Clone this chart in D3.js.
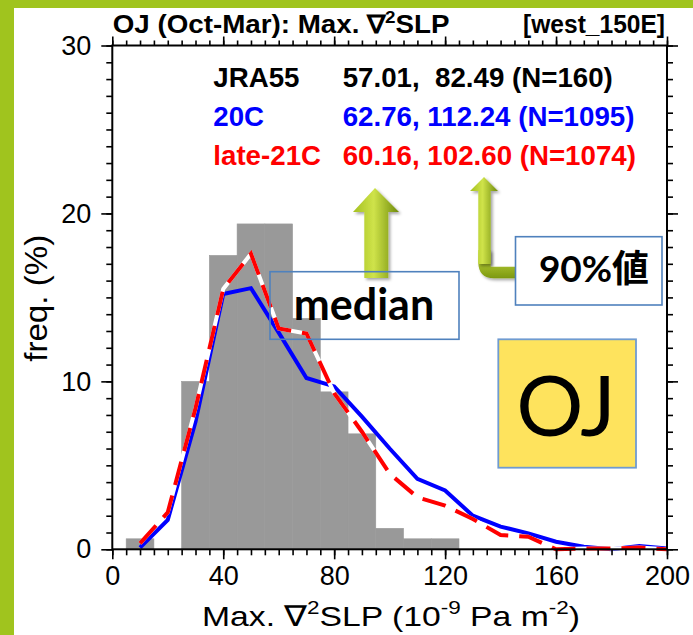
<!DOCTYPE html>
<html>
<head>
<meta charset="utf-8">
<script src="https://cdn.jsdelivr.net/npm/d3@7"></script>
<style>
  html, body { margin: 0; padding: 0; background: #ffffff; }
  svg { display: block; }
  text { white-space: pre; }
</style>
</head>
<body>
<svg id="chart" width="693" height="635"></svg>
<script>
// ---------------- data ----------------
const binCenters = [10, 20, 30, 40, 50, 60, 70, 80, 90, 100, 110, 120];
const jra55Freq  = [0.625, 0, 10.0, 17.5, 19.375, 19.375, 13.75, 9.375, 6.875, 1.25, 0.625, 0.625];
const binWidth = 10;

const lineX     = [10, 20, 30, 40, 50, 60, 70, 80, 90, 100, 110, 120, 130, 140, 150, 160, 170, 180, 190, 200];
const freq20C   = [0.1, 1.75, 7.6, 15.2, 15.55, 12.9, 10.2, 9.7, 7.9, 6.0, 4.2, 3.5, 2.0, 1.35, 0.95, 0.45, 0.15, 0.0, 0.2, 0.05];
const freqLate21C = [0.35, 2.2, 8.4, 15.5, 17.6, 13.15, 12.85, 9.3, 7.0, 4.5, 3.1, 2.6, 1.8, 0.85, 0.75, 0.0, 0.05, 0.05, 0.1, 0.0];

const legendNames  = ["JRA55", "20C", "late-21C"];
const legendValues = ["57.01,  82.49 (N=160)", "62.76, 112.24 (N=1095)", "60.16, 102.60 (N=1074)"];
const legendColors = ["#000000", "#0000ff", "#ff0000"];

const xMajorTicks = [0, 40, 80, 120, 160, 200];
const yMajorTicks = [0, 10, 20, 30];
const titleLeft  = "OJ (Oct-Mar): Max. ∇";
const titleRight = "[west_150E]";

// ---------------- layout ----------------
const svg = d3.select("#chart");
const W = 693, H = 635;
const plot = { left: 112.3, right: 667, top: 45.5, bottom: 549.3 };
const x = d3.scaleLinear().domain([0, 200]).range([plot.left, plot.right]);
const y = d3.scaleLinear().domain([0, 30]).range([plot.bottom, plot.top]);
const FONT = "'Liberation Sans', Arial, Helvetica, sans-serif";

// stretch a text element horizontally so that it spans targetW, keeping anchor at ax
function fitWidth(sel, targetW, ax) {
  const bb = sel.node().getBBox();
  const s = targetW / bb.width;
  sel.attr("transform", `translate(${ax},0) scale(${s},1) translate(${-ax},0)`);
}

// background + green frame band
svg.append("rect").attr("width", W).attr("height", H).attr("fill", "#ffffff");
svg.append("rect").attr("x", 0).attr("y", 0).attr("width", W).attr("height", 8).attr("fill", "#a0c41e");
svg.append("rect").attr("x", 0).attr("y", 0).attr("width", 14).attr("height", H).attr("fill", "#a0c41e");

// defs
const defs = svg.append("defs");
const gH = defs.append("linearGradient").attr("id", "gH").attr("x1", "0").attr("x2", "1").attr("y1", "0").attr("y2", "0");
gH.append("stop").attr("offset", "0%").attr("stop-color", "#a4c020");
gH.append("stop").attr("offset", "45%").attr("stop-color", "#cfe34a");
gH.append("stop").attr("offset", "100%").attr("stop-color", "#6e8a0a");
const gV = defs.append("linearGradient").attr("id", "gV").attr("x1", "0").attr("x2", "0").attr("y1", "0").attr("y2", "1");
gV.append("stop").attr("offset", "0%").attr("stop-color", "#cfe34a");
gV.append("stop").attr("offset", "100%").attr("stop-color", "#7c980f");
const sh = defs.append("filter").attr("id", "shadow").attr("x", "-30%").attr("y", "-30%").attr("width", "160%").attr("height", "160%");
sh.append("feDropShadow").attr("dx", 2).attr("dy", 2).attr("stdDeviation", 1.5).attr("flood-color", "#000").attr("flood-opacity", 0.35);

// ---------------- histogram ----------------
svg.append("g").selectAll("rect").data(binCenters.map((c, i) => ({ c, v: jra55Freq[i] })))
  .join("rect")
  .attr("x", d => x(d.c - binWidth / 2))
  .attr("width", d => x(d.c + binWidth / 2) - x(d.c - binWidth / 2))
  .attr("y", d => y(d.v))
  .attr("height", d => y(0) - y(d.v))
  .attr("fill", "#999999").attr("stroke", "#999999").attr("stroke-width", 0.6);

// ---------------- lines ----------------
const line = d3.line().x(d => x(d[0])).y(d => y(d[1]));
const pts20 = lineX.map((v, i) => [v, freq20C[i]]);
const pts21 = lineX.map((v, i) => [v, freqLate21C[i]]);
svg.append("path").datum(pts20).attr("d", line).attr("fill", "none")
  .attr("stroke", "#0000ff").attr("stroke-width", 4);
svg.append("path").datum(pts21).attr("d", line).attr("fill", "none")
  .attr("stroke", "#ffffff").attr("stroke-width", 4);
svg.append("path").datum(pts21).attr("d", line).attr("fill", "none")
  .attr("stroke", "#ff0000").attr("stroke-width", 4).attr("stroke-dasharray", "24,11");

// ---------------- axes ----------------
const minorX = d3.range(0, 201, 5), minorY = d3.range(0, 31, 1);
function styleAxis(g) { g.select(".domain").remove(); g.selectAll("line").attr("stroke", "#000").attr("stroke-width", 1.6); }
svg.append("g").attr("transform", `translate(0,${plot.bottom})`)
  .call(d3.axisBottom(x).tickValues(minorX).tickSize(6).tickFormat("")).call(styleAxis);
svg.append("g").attr("transform", `translate(0,${plot.bottom})`)
  .call(d3.axisBottom(x).tickValues(xMajorTicks).tickSize(10).tickPadding(7).tickFormat(d3.format("d")))
  .call(styleAxis)
  .call(g => g.selectAll("text").attr("font-family", FONT).attr("font-size", 27).attr("fill", "#000"));
svg.append("g").attr("transform", `translate(0,${plot.top})`)
  .call(d3.axisTop(x).tickValues(minorX).tickSize(5).tickFormat("")).call(styleAxis);
svg.append("g").attr("transform", `translate(0,${plot.top})`)
  .call(d3.axisTop(x).tickValues(xMajorTicks).tickSize(9).tickFormat("")).call(styleAxis);
svg.append("g").attr("transform", `translate(${plot.left},0)`)
  .call(d3.axisLeft(y).tickValues(minorY).tickSize(6).tickFormat("")).call(styleAxis);
svg.append("g").attr("transform", `translate(${plot.left},0)`)
  .call(d3.axisLeft(y).tickValues(yMajorTicks).tickSize(11).tickPadding(10).tickFormat(d3.format("d")))
  .call(styleAxis)
  .call(g => g.selectAll("text").attr("font-family", FONT).attr("font-size", 27).attr("fill", "#000"));
svg.append("g").attr("transform", `translate(${plot.right},0)`)
  .call(d3.axisRight(y).tickValues(minorY).tickSize(6).tickFormat("")).call(styleAxis);
svg.append("g").attr("transform", `translate(${plot.right},0)`)
  .call(d3.axisRight(y).tickValues(yMajorTicks).tickSize(11).tickFormat("")).call(styleAxis);
svg.append("rect").attr("x", plot.left).attr("y", plot.top)
  .attr("width", plot.right - plot.left).attr("height", plot.bottom - plot.top)
  .attr("fill", "none").attr("stroke", "#000").attr("stroke-width", 2);

// ---------------- titles ----------------
const t = svg.append("text").attr("x", 112.7).attr("y", 33)
  .attr("font-family", FONT).attr("font-weight", "bold").attr("font-size", 25).attr("fill", "#000");
t.append("tspan").text(titleLeft);
t.append("tspan").attr("font-size", 17).attr("dy", -10).text("2");
t.append("tspan").attr("dy", 10).text("SLP");
fitWidth(t, 338, 112.7);
const tr = svg.append("text").attr("x", 665).attr("y", 33).attr("text-anchor", "end")
  .attr("font-family", FONT).attr("font-weight", "bold").attr("font-size", 25).attr("fill", "#000")
  .text(titleRight);
fitWidth(tr, 142, 665);

// x axis title
const xt = svg.append("text").attr("x", 391).attr("y", 626).attr("text-anchor", "middle")
  .attr("font-family", FONT).attr("font-size", 28.5).attr("fill", "#000");
xt.append("tspan").text("Max. ∇");
xt.append("tspan").attr("font-size", 19).attr("dy", -12).text("2");
xt.append("tspan").attr("dy", 12).text("SLP (10");
xt.append("tspan").attr("font-size", 19).attr("dy", -12).text("-9");
xt.append("tspan").attr("dy", 12).text(" Pa m");
xt.append("tspan").attr("font-size", 19).attr("dy", -12).text("-2");
xt.append("tspan").attr("dy", 12).text(")");
fitWidth(xt, 378, 391);

// y axis title
const yt = svg.append("text").attr("x", 298.3).attr("y", 0).attr("text-anchor", "middle")
  .attr("font-family", FONT).attr("font-size", 31).attr("fill", "#000").text("freq. (%)");
{
  const bb = yt.node().getBBox();
  const s = 127 / bb.width;
  yt.attr("x", 0).attr("transform", `translate(47,298.3) rotate(-90) scale(${s},1)`);
}

// ---------------- legend ----------------
const rowsY = [86.7, 125.6, 164.5];
const lg = svg.append("g").attr("font-family", FONT).attr("font-weight", "bold").attr("font-size", 27.7);
legendNames.forEach((n, i) => {
  lg.append("text").attr("x", 213.3).attr("y", rowsY[i]).attr("fill", legendColors[i]).text(n);
  lg.append("text").attr("x", 342.7).attr("y", rowsY[i]).attr("fill", legendColors[i]).text(legendValues[i]);
});

// ---------------- annotations ----------------
const ann = svg.append("g");
ann.append("path")
  .attr("d", "M353,212 L375,188 L399,212 L388.3,212 L388.3,278 L364.3,278 L364.3,212 Z")
  .attr("fill", "url(#gH)").attr("filter", "url(#shadow)");
ann.append("path")
  .attr("d", "M478.3,250 L490.7,250 L490.7,266.7 L518,266.7 L518,278.3 L494,278.3 Q478.3,278.3 478.3,262 Z")
  .attr("fill", "url(#gV)").attr("filter", "url(#shadow)");
ann.append("path")
  .attr("d", "M470,191 L484,177 L498,191 L490.7,191 L490.7,264 L478.3,264 L478.3,191 Z")
  .attr("fill", "url(#gH)").attr("filter", "url(#shadow)");

ann.append("rect").attr("x", 270).attr("y", 271.7).attr("width", 189).attr("height", 67.6)
  .attr("fill", "none").attr("stroke", "#4f81bd").attr("stroke-width", 1.6);
ann.append("text").attr("x", 364).attr("y", 320).attr("text-anchor", "middle")
  .attr("font-family", "Lato, 'Noto Sans', sans-serif").attr("font-weight", "bold").attr("font-size", 43)
  .attr("fill", "#000").text("median");

ann.append("rect").attr("x", 515.5).attr("y", 236.7).attr("width", 146.5).attr("height", 68.3)
  .attr("fill", "#ffffff").attr("stroke", "#4f81bd").attr("stroke-width", 1.6);
ann.append("text").attr("x", 594).attr("y", 282).attr("text-anchor", "middle")
  .attr("font-family", "Lato, 'Noto Sans CJK JP', sans-serif").attr("font-weight", "bold").attr("font-size", 37)
  .attr("fill", "#000").text("90%値");

ann.append("rect").attr("x", 498.3).attr("y", 339.3).attr("width", 137.7).attr("height", 128.4)
  .attr("fill", "#fee35d").attr("stroke", "#6f9bd1").attr("stroke-width", 1.8);
ann.append("text").attr("x", 566).attr("y", 436).attr("text-anchor", "middle")
  .attr("font-family", "Lato, 'Noto Sans', sans-serif").attr("font-weight", 400).attr("font-size", 84)
  .attr("fill", "#000").text("OJ");
</script>
</body>
</html>
